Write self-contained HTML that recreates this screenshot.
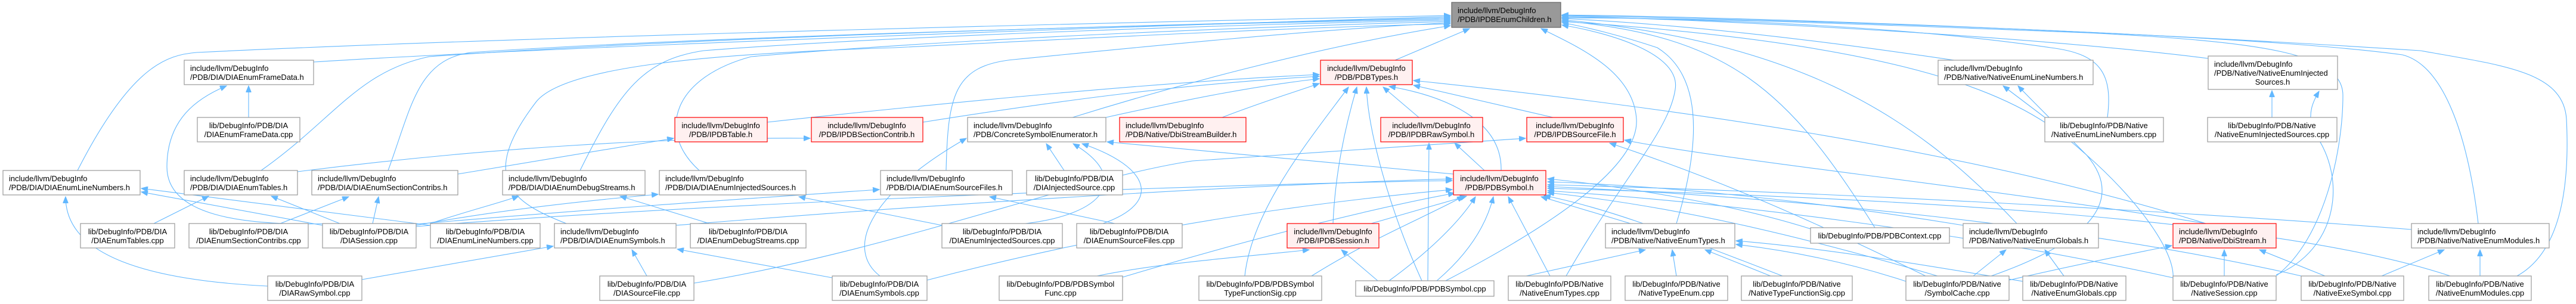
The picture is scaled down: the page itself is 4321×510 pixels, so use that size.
<!DOCTYPE html>
<html><head><meta charset="utf-8"><style>
html,body{margin:0;padding:0;background:#fff;}
svg{display:block;}
text{font-family:"Liberation Sans",Arial,sans-serif;font-size:13px;fill:#000;}
.e{fill:none;stroke:#63b8ff;stroke-width:1.1;}
.n{fill:#fff;stroke:#999;stroke-width:1.2;}
.r{fill:#fff0f0;stroke:#f00;stroke-width:1.2;}
.g{fill:#999;stroke:#666;stroke-width:1.2;}
</style></head><body>
<svg width="4321" height="510" viewBox="0 0 4321 510" xmlns="http://www.w3.org/2000/svg">
<defs><marker id="a" markerWidth="12" markerHeight="9" refX="11" refY="4.5" orient="auto" markerUnits="userSpaceOnUse"><path d="M0,0 L11,4.5 L0,9 z" fill="#63b8ff" stroke="#63b8ff"/></marker></defs>
<g marker-end="url(#a)">
<path class="e" d="M130,286 C220,110 280,92 330,88 C900,60 2000,35 2433,26"/>
<path class="e" d="M526,104 C900,80 2000,40 2433,28"/>
<path class="e" d="M438,286 C560,200 600,120 720,95 C1200,60 2000,40 2433,30"/>
<path class="e" d="M651,286 C690,180 700,100 790,88 C1200,60 2000,40 2433,32"/>
<path class="e" d="M973,286 C1040,150 1080,100 1180,85 C1500,60 2100,40 2433,34"/>
<path class="e" d="M1173,286 C1100,220 1130,130 1260,95 C1600,65 2100,45 2433,36"/>
<path class="e" d="M1587,286 C1590,160 1600,110 1700,100 C1900,80 2200,50 2433,38"/>
<path class="e" d="M950,375 C860,340 800,300 900,170 C950,110 1200,90 1500,80 C1900,60 2200,45 2433,40"/>
<path class="e" d="M1799,197 C1950,150 2200,80 2433,43"/>
<path class="e" d="M2340,101 L2465,48"/>
<path class="e" d="M2425,471 C2600,380 2750,280 2745,200 C2740,120 2650,80 2585,48"/>
<path class="e" d="M2627,463 C2720,300 2800,220 2810,150 C2820,90 2700,55 2620,42"/>
<path class="e" d="M2812,375 C2850,250 2860,130 2780,80 C2720,60 2660,45 2620,38"/>
<path class="e" d="M3145,382 C3000,150 2900,60 2620,35"/>
<path class="e" d="M3383,375 C3200,180 3000,70 2620,33"/>
<path class="e" d="M3278,101 C3000,60 2800,40 2620,31"/>
<path class="e" d="M3535,197 C3545,120 3520,90 3440,80 C3200,45 2900,32 2620,29"/>
<path class="e" d="M3704,98 C3400,60 2900,34 2620,27"/>
<path class="e" d="M4157,375 C4140,230 4100,110 4030,92 C3800,60 3100,35 2620,26"/>
<path class="e" d="M4222,463 C4300,420 4310,300 4305,200 C4300,120 4200,110 4060,85 C3600,55 3000,30 2620,25"/>
<path class="e" d="M3818,463 C3900,400 3930,250 3930,160 C3930,90 3800,70 3500,55 C3000,35 2800,30 2620,30"/>
<path class="e" d="M3645,469 C3650,420 3580,330 3500,260 C3420,190 3300,80 2620,36"/>
<path class="e" d="M3818,461 C3920,420 3940,300 3880,220 C3870,190 3880,170 3890,153"/>
<path class="e" d="M1287,205 C1700,160 2000,135 2213,125"/>
<path class="e" d="M1548,205 C1800,165 2000,140 2213,128"/>
<path class="e" d="M1855,197 C2000,165 2100,145 2213,132"/>
<path class="e" d="M2050,197 C2120,170 2170,155 2213,140"/>
<path class="e" d="M2380,197 L2320,146"/>
<path class="e" d="M2605,197 L2371,143"/>
<path class="e" d="M2518,286 C2520,200 2420,160 2330,145"/>
<path class="e" d="M2236,375 C2240,280 2260,200 2276,146"/>
<path class="e" d="M2385,471 C2330,350 2295,220 2292,146"/>
<path class="e" d="M2088,463 C2100,350 2200,230 2262,146"/>
<path class="e" d="M3700,375 C3300,250 2800,180 2371,135"/>
<path class="e" d="M1134,378 C1600,340 2100,310 2436,300"/>
<path class="e" d="M698,380 C1200,340 2000,310 2436,303"/>
<path class="e" d="M1555,470 C1900,380 2200,340 2436,318"/>
<path class="e" d="M1883,465 C2100,400 2300,350 2440,324"/>
<path class="e" d="M2200,463 C2300,400 2400,360 2455,329"/>
<path class="e" d="M2300,375 L2460,329"/>
<path class="e" d="M2330,471 C2400,420 2450,370 2475,330"/>
<path class="e" d="M2410,471 C2470,420 2495,370 2505,330"/>
<path class="e" d="M2600,463 L2530,330"/>
<path class="e" d="M2735,375 L2585,330"/>
<path class="e" d="M3037,384 C2900,340 2700,310 2596,300"/>
<path class="e" d="M3293,378 C3000,330 2750,310 2596,305"/>
<path class="e" d="M4045,385 C3600,350 3000,320 2596,310"/>
<path class="e" d="M3860,463 C3500,380 3000,330 2596,313"/>
<path class="e" d="M4110,463 C3800,360 3100,330 2596,316"/>
<path class="e" d="M3645,466 C3300,390 2900,340 2596,320"/>
<path class="e" d="M3250,463 C3000,390 2800,345 2596,323"/>
<path class="e" d="M2990,463 C2800,390 2700,350 2590,328"/>
<path class="e" d="M2490,286 L2440,240"/>
<path class="e" d="M2395,471 L2397,240"/>
<path class="e" d="M2438,292 C2300,280 2100,262 1857,238"/>
<path class="e" d="M1164,475 C1500,420 1800,300 2000,270 C2300,250 2450,240 2559,232"/>
<path class="e" d="M3230,463 C3000,350 2850,290 2700,240"/>
<path class="e" d="M3700,375 C3300,310 2900,270 2725,235"/>
<path class="e" d="M2560,463 L2760,419"/>
<path class="e" d="M2812,463 L2805,419"/>
<path class="e" d="M2970,463 L2860,419"/>
<path class="e" d="M3197,472 C3100,440 3000,420 2912,410"/>
<path class="e" d="M3393,472 C3200,440 3050,415 2912,404"/>
<path class="e" d="M2311,471 L2250,419"/>
<path class="e" d="M1840,463 C1950,440 2100,430 2196,419"/>
<path class="e" d="M1785,286 L1755,241"/>
<path class="e" d="M1720,375 C1850,360 1900,300 1800,241"/>
<path class="e" d="M1850,375 C1950,340 1930,280 1815,241"/>
<path class="e" d="M1870,375 L1660,330"/>
<path class="e" d="M1476,463 C1420,420 1450,330 1621,232"/>
<path class="e" d="M417,197 L417,144"/>
<path class="e" d="M560,375 C400,380 280,360 280,280 C280,200 330,165 380,144"/>
<path class="e" d="M258,375 L350,329"/>
<path class="e" d="M570,375 L455,329"/>
<path class="e" d="M625,375 L635,330"/>
<path class="e" d="M470,375 L585,330"/>
<path class="e" d="M541,378 L237,322"/>
<path class="e" d="M722,378 L237,316"/>
<path class="e" d="M449,480 C250,470 110,430 110,330"/>
<path class="e" d="M722,375 C780,355 840,340 870,329"/>
<path class="e" d="M698,378 C850,350 1000,335 1104,326"/>
<path class="e" d="M1190,375 L1040,329"/>
<path class="e" d="M1580,378 L1340,330"/>
<path class="e" d="M698,376 C1000,350 1300,330 1475,318"/>
<path class="e" d="M607,469 L928,413"/>
<path class="e" d="M1085,463 L1060,419"/>
<path class="e" d="M1396,466 L1136,418"/>
<path class="e" d="M768,292 L1130,232"/>
<path class="e" d="M499,288 C800,250 1100,230 1359,232"/>
<path class="e" d="M3430,197 L3360,144"/>
<path class="e" d="M3340,463 C3520,400 3560,330 3500,260 C3430,190 3400,160 3385,144"/>
<path class="e" d="M3310,463 L3365,419"/>
<path class="e" d="M3462,463 L3430,419"/>
<path class="e" d="M3811,197 L3811,152"/>
<path class="e" d="M3731,463 L3731,419"/>
<path class="e" d="M3900,463 L3790,419"/>
<path class="e" d="M3370,470 C3500,440 3580,425 3643,412"/>
<path class="e" d="M3995,463 L4100,419"/>
<path class="e" d="M4160,463 L4160,419"/>
</g>
<rect class="g" x="2435" y="4" width="183" height="42"/>
<text x="2445" y="22">include/llvm/DebugInfo</text><text x="2445" y="37">/PDB/IPDBEnumChildren.h</text>

<rect class="n" x="309" y="101" width="217" height="41"/>
<text x="319" y="119">include/llvm/DebugInfo</text><text x="319" y="134">/PDB/DIA/DIAEnumFrameData.h</text>
<rect class="n" x="331" y="197" width="172" height="41"/>
<text x="417" y="215" text-anchor="middle">lib/DebugInfo/PDB/DIA</text><text x="417" y="230" text-anchor="middle">/DIAEnumFrameData.cpp</text>

<rect class="r" x="2215" y="101" width="154" height="41"/>
<text x="2292" y="119" text-anchor="middle">include/llvm/DebugInfo</text><text x="2292" y="134" text-anchor="middle">/PDB/PDBTypes.h</text>

<rect class="n" x="3251" y="101" width="260" height="41"/>
<text x="3261" y="119">include/llvm/DebugInfo</text><text x="3261" y="134">/PDB/Native/NativeEnumLineNumbers.h</text>
<rect class="n" x="3704" y="94" width="217" height="56"/>
<text x="3714" y="112">include/llvm/DebugInfo</text><text x="3714" y="127">/PDB/Native/NativeEnumInjected</text><text x="3812" y="142" text-anchor="middle">Sources.h</text>

<rect class="r" x="1132" y="197" width="155" height="41"/>
<text x="1209" y="215" text-anchor="middle">include/llvm/DebugInfo</text><text x="1209" y="230" text-anchor="middle">/PDB/IPDBTable.h</text>
<rect class="r" x="1361" y="197" width="187" height="41"/>
<text x="1454" y="215" text-anchor="middle">include/llvm/DebugInfo</text><text x="1454" y="230" text-anchor="middle">/PDB/IPDBSectionContrib.h</text>
<rect class="n" x="1623" y="197" width="232" height="41"/>
<text x="1633" y="215">include/llvm/DebugInfo</text><text x="1633" y="230">/PDB/ConcreteSymbolEnumerator.h</text>
<rect class="r" x="1878" y="197" width="212" height="41"/>
<text x="1888" y="215">include/llvm/DebugInfo</text><text x="1888" y="230">/PDB/Native/DbiStreamBuilder.h</text>
<rect class="r" x="2316" y="197" width="171" height="41"/>
<text x="2401" y="215" text-anchor="middle">include/llvm/DebugInfo</text><text x="2401" y="230" text-anchor="middle">/PDB/IPDBRawSymbol.h</text>
<rect class="r" x="2561" y="197" width="162" height="41"/>
<text x="2642" y="215" text-anchor="middle">include/llvm/DebugInfo</text><text x="2642" y="230" text-anchor="middle">/PDB/IPDBSourceFile.h</text>
<rect class="n" x="3430" y="197" width="199" height="41"/>
<text x="3529" y="215" text-anchor="middle">lib/DebugInfo/PDB/Native</text><text x="3529" y="230" text-anchor="middle">/NativeEnumLineNumbers.cpp</text>
<rect class="n" x="3703" y="197" width="217" height="41"/>
<text x="3811" y="215" text-anchor="middle">lib/DebugInfo/PDB/Native</text><text x="3811" y="230" text-anchor="middle">/NativeEnumInjectedSources.cpp</text>

<rect class="n" x="5" y="286" width="230" height="41"/>
<text x="15" y="304">include/llvm/DebugInfo</text><text x="15" y="319">/PDB/DIA/DIAEnumLineNumbers.h</text>
<rect class="n" x="309" y="286" width="190" height="41"/>
<text x="319" y="304">include/llvm/DebugInfo</text><text x="319" y="319">/PDB/DIA/DIAEnumTables.h</text>
<rect class="n" x="523" y="286" width="245" height="41"/>
<text x="533" y="304">include/llvm/DebugInfo</text><text x="533" y="319">/PDB/DIA/DIAEnumSectionContribs.h</text>
<rect class="n" x="843" y="286" width="239" height="41"/>
<text x="853" y="304">include/llvm/DebugInfo</text><text x="853" y="319">/PDB/DIA/DIAEnumDebugStreams.h</text>
<rect class="n" x="1106" y="286" width="246" height="41"/>
<text x="1116" y="304">include/llvm/DebugInfo</text><text x="1116" y="319">/PDB/DIA/DIAEnumInjectedSources.h</text>
<rect class="n" x="1477" y="286" width="221" height="41"/>
<text x="1487" y="304">include/llvm/DebugInfo</text><text x="1487" y="319">/PDB/DIA/DIAEnumSourceFiles.h</text>
<rect class="n" x="1722" y="286" width="161" height="41"/>
<text x="1802" y="304" text-anchor="middle">lib/DebugInfo/PDB/DIA</text><text x="1802" y="319" text-anchor="middle">/DIAInjectedSource.cpp</text>
<rect class="r" x="2438" y="286" width="155" height="41"/>
<text x="2515" y="304" text-anchor="middle">include/llvm/DebugInfo</text><text x="2515" y="319" text-anchor="middle">/PDB/PDBSymbol.h</text>

<rect class="n" x="135" y="375" width="158" height="41"/>
<text x="214" y="393" text-anchor="middle">lib/DebugInfo/PDB/DIA</text><text x="214" y="408" text-anchor="middle">/DIAEnumTables.cpp</text>
<rect class="n" x="317" y="375" width="200" height="41"/>
<text x="417" y="393" text-anchor="middle">lib/DebugInfo/PDB/DIA</text><text x="417" y="408" text-anchor="middle">/DIAEnumSectionContribs.cpp</text>
<rect class="n" x="541" y="375" width="157" height="41"/>
<text x="619" y="393" text-anchor="middle">lib/DebugInfo/PDB/DIA</text><text x="619" y="408" text-anchor="middle">/DIASession.cpp</text>
<rect class="n" x="722" y="375" width="184" height="41"/>
<text x="814" y="393" text-anchor="middle">lib/DebugInfo/PDB/DIA</text><text x="814" y="408" text-anchor="middle">/DIAEnumLineNumbers.cpp</text>
<rect class="n" x="930" y="375" width="204" height="41"/>
<text x="940" y="393">include/llvm/DebugInfo</text><text x="940" y="408">/PDB/DIA/DIAEnumSymbols.h</text>
<rect class="n" x="1158" y="375" width="194" height="41"/>
<text x="1255" y="393" text-anchor="middle">lib/DebugInfo/PDB/DIA</text><text x="1255" y="408" text-anchor="middle">/DIAEnumDebugStreams.cpp</text>
<rect class="n" x="1580" y="375" width="202" height="41"/>
<text x="1681" y="393" text-anchor="middle">lib/DebugInfo/PDB/DIA</text><text x="1681" y="408" text-anchor="middle">/DIAEnumInjectedSources.cpp</text>
<rect class="n" x="1806" y="375" width="177" height="41"/>
<text x="1894" y="393" text-anchor="middle">lib/DebugInfo/PDB/DIA</text><text x="1894" y="408" text-anchor="middle">/DIAEnumSourceFiles.cpp</text>
<rect class="r" x="2159" y="375" width="154" height="41"/>
<text x="2236" y="393" text-anchor="middle">include/llvm/DebugInfo</text><text x="2236" y="408" text-anchor="middle">/PDB/IPDBSession.h</text>
<rect class="n" x="2693" y="375" width="217" height="41"/>
<text x="2703" y="393">include/llvm/DebugInfo</text><text x="2703" y="408">/PDB/Native/NativeEnumTypes.h</text>
<rect class="n" x="3037" y="382" width="233" height="26"/>
<text x="3153" y="400" text-anchor="middle">lib/DebugInfo/PDB/PDBContext.cpp</text>
<rect class="n" x="3293" y="375" width="227" height="41"/>
<text x="3303" y="393">include/llvm/DebugInfo</text><text x="3303" y="408">/PDB/Native/NativeEnumGlobals.h</text>
<rect class="r" x="3645" y="375" width="173" height="41"/>
<text x="3655" y="393">include/llvm/DebugInfo</text><text x="3655" y="408">/PDB/Native/DbiStream.h</text>
<rect class="n" x="4045" y="375" width="231" height="41"/>
<text x="4055" y="393">include/llvm/DebugInfo</text><text x="4055" y="408">/PDB/Native/NativeEnumModules.h</text>

<rect class="n" x="449" y="463" width="158" height="41"/>
<text x="528" y="481" text-anchor="middle">lib/DebugInfo/PDB/DIA</text><text x="528" y="496" text-anchor="middle">/DIARawSymbol.cpp</text>
<rect class="n" x="1006" y="463" width="158" height="41"/>
<text x="1085" y="481" text-anchor="middle">lib/DebugInfo/PDB/DIA</text><text x="1085" y="496" text-anchor="middle">/DIASourceFile.cpp</text>
<rect class="n" x="1396" y="463" width="159" height="41"/>
<text x="1475" y="481" text-anchor="middle">lib/DebugInfo/PDB/DIA</text><text x="1475" y="496" text-anchor="middle">/DIAEnumSymbols.cpp</text>
<rect class="n" x="1676" y="463" width="207" height="41"/>
<text x="1779" y="481" text-anchor="middle">lib/DebugInfo/PDB/PDBSymbol</text><text x="1779" y="496" text-anchor="middle">Func.cpp</text>
<rect class="n" x="2011" y="463" width="206" height="41"/>
<text x="2114" y="481" text-anchor="middle">lib/DebugInfo/PDB/PDBSymbol</text><text x="2114" y="496" text-anchor="middle">TypeFunctionSig.cpp</text>
<rect class="n" x="2274" y="471" width="232" height="26"/>
<text x="2390" y="489" text-anchor="middle">lib/DebugInfo/PDB/PDBSymbol.cpp</text>
<rect class="n" x="2530" y="463" width="172" height="41"/>
<text x="2616" y="481" text-anchor="middle">lib/DebugInfo/PDB/Native</text><text x="2616" y="496" text-anchor="middle">/NativeEnumTypes.cpp</text>
<rect class="n" x="2726" y="463" width="172" height="41"/>
<text x="2812" y="481" text-anchor="middle">lib/DebugInfo/PDB/Native</text><text x="2812" y="496" text-anchor="middle">/NativeTypeEnum.cpp</text>
<rect class="n" x="2921" y="463" width="186" height="41"/>
<text x="3014" y="481" text-anchor="middle">lib/DebugInfo/PDB/Native</text><text x="3014" y="496" text-anchor="middle">/NativeTypeFunctionSig.cpp</text>
<rect class="n" x="3197" y="463" width="173" height="41"/>
<text x="3283" y="481" text-anchor="middle">lib/DebugInfo/PDB/Native</text><text x="3283" y="496" text-anchor="middle">/SymbolCache.cpp</text>
<rect class="n" x="3393" y="463" width="173" height="41"/>
<text x="3479" y="481" text-anchor="middle">lib/DebugInfo/PDB/Native</text><text x="3479" y="496" text-anchor="middle">/NativeEnumGlobals.cpp</text>
<rect class="n" x="3645" y="463" width="173" height="41"/>
<text x="3731" y="481" text-anchor="middle">lib/DebugInfo/PDB/Native</text><text x="3731" y="496" text-anchor="middle">/NativeSession.cpp</text>
<rect class="n" x="3860" y="463" width="172" height="41"/>
<text x="3946" y="481" text-anchor="middle">lib/DebugInfo/PDB/Native</text><text x="3946" y="496" text-anchor="middle">/NativeExeSymbol.cpp</text>
<rect class="n" x="4074" y="463" width="172" height="41"/>
<text x="4160" y="481" text-anchor="middle">lib/DebugInfo/PDB/Native</text><text x="4160" y="496" text-anchor="middle">/NativeEnumModules.cpp</text>
</svg>
</body></html>
